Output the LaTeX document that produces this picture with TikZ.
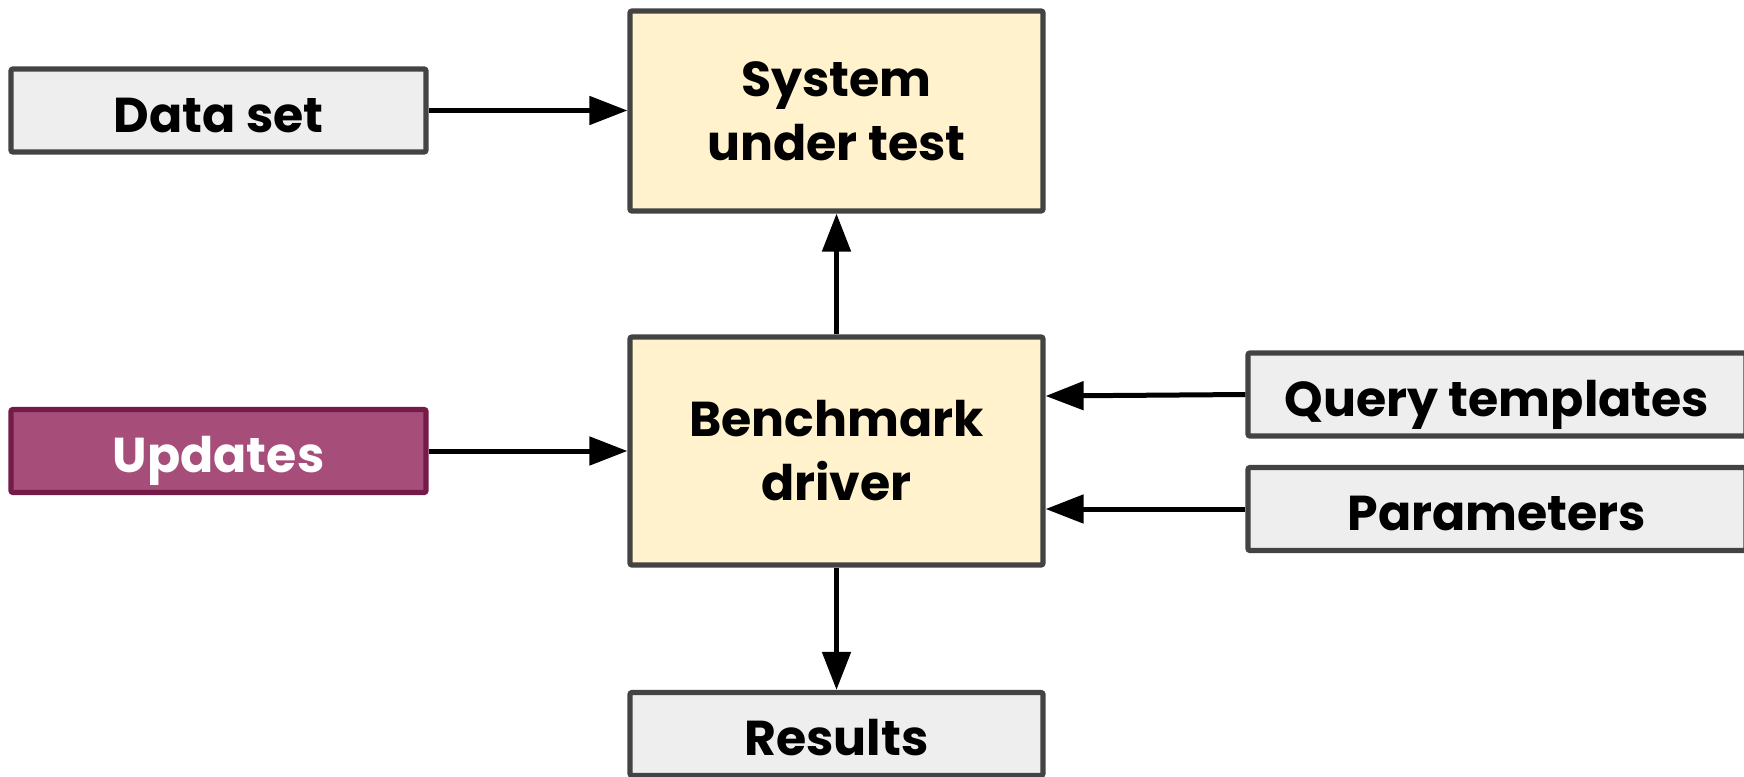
\documentclass[tikz,border=0pt]{standalone}
\usepackage{fontspec}
\setmainfont{Poppins}
\usetikzlibrary{arrows.meta}
\definecolor{edgegrey}{HTML}{434343}
\definecolor{boxgrey}{HTML}{EEEEEE}
\definecolor{boxyellow}{HTML}{FFF2CC}
\definecolor{boxplum}{HTML}{A64D79}
\definecolor{edgeplum}{HTML}{741B47}
\tikzset{
  blk/.style={draw=edgegrey, line width=2.6pt, rounded corners=1pt,
    font=\fontsize{24.5}{32}\selectfont\bfseries, align=center, inner sep=0pt},
  oneline/.style={text height=21.5pt, text depth=0pt},
  inbox/.style={blk, oneline, fill=boxgrey, minimum width=207.5pt, minimum height=41.5pt},
  corebox/.style={blk, fill=boxyellow, minimum width=206.5pt},
  updbox/.style={inbox, fill=boxplum, draw=edgeplum, text=white},
  sidebox/.style={blk, oneline, fill=boxgrey, minimum width=249pt, minimum height=41.5pt},
  flow/.style={line width=2.5pt, -{Triangle[length=19pt,width=14pt]}}
}
\begin{document}
\begin{tikzpicture}[x=0.5pt,y=-0.5pt]
\useasboundingbox (0,0) rectangle (1744,776);
\clip (0,0) rectangle (1744,776);
\node[inbox] (data) at (218.5,110.5) {Data set};
\node[updbox] (upd) at (218.5,451) {Updates};
\node[corebox, minimum height=100pt] (sut) at (836.5,111) {System\\under test};
\node[corebox, minimum height=114pt] (bd) at (836.5,451) {Benchmark\\driver};
\node[inbox, minimum width=206.5pt] (res) at (836.5,734) {Results};
\node[sidebox] (qt) at (1497,394.5) {Query templates};
\node[sidebox] (par) at (1497,509) {Parameters};
\draw[flow] (data.east) -- (sut.west |- data.east);
\draw[flow] (upd.east) -- (bd.west |- upd.east);
\draw[flow] (bd.north) -- (sut.south);
\draw[flow] (bd.south) -- (res.north);
\draw[flow] (qt.west) -- ([yshift=27.5pt]bd.east);
\draw[flow] (par.west) -- ([yshift=-29pt]bd.east);
\end{tikzpicture}
\end{document}
